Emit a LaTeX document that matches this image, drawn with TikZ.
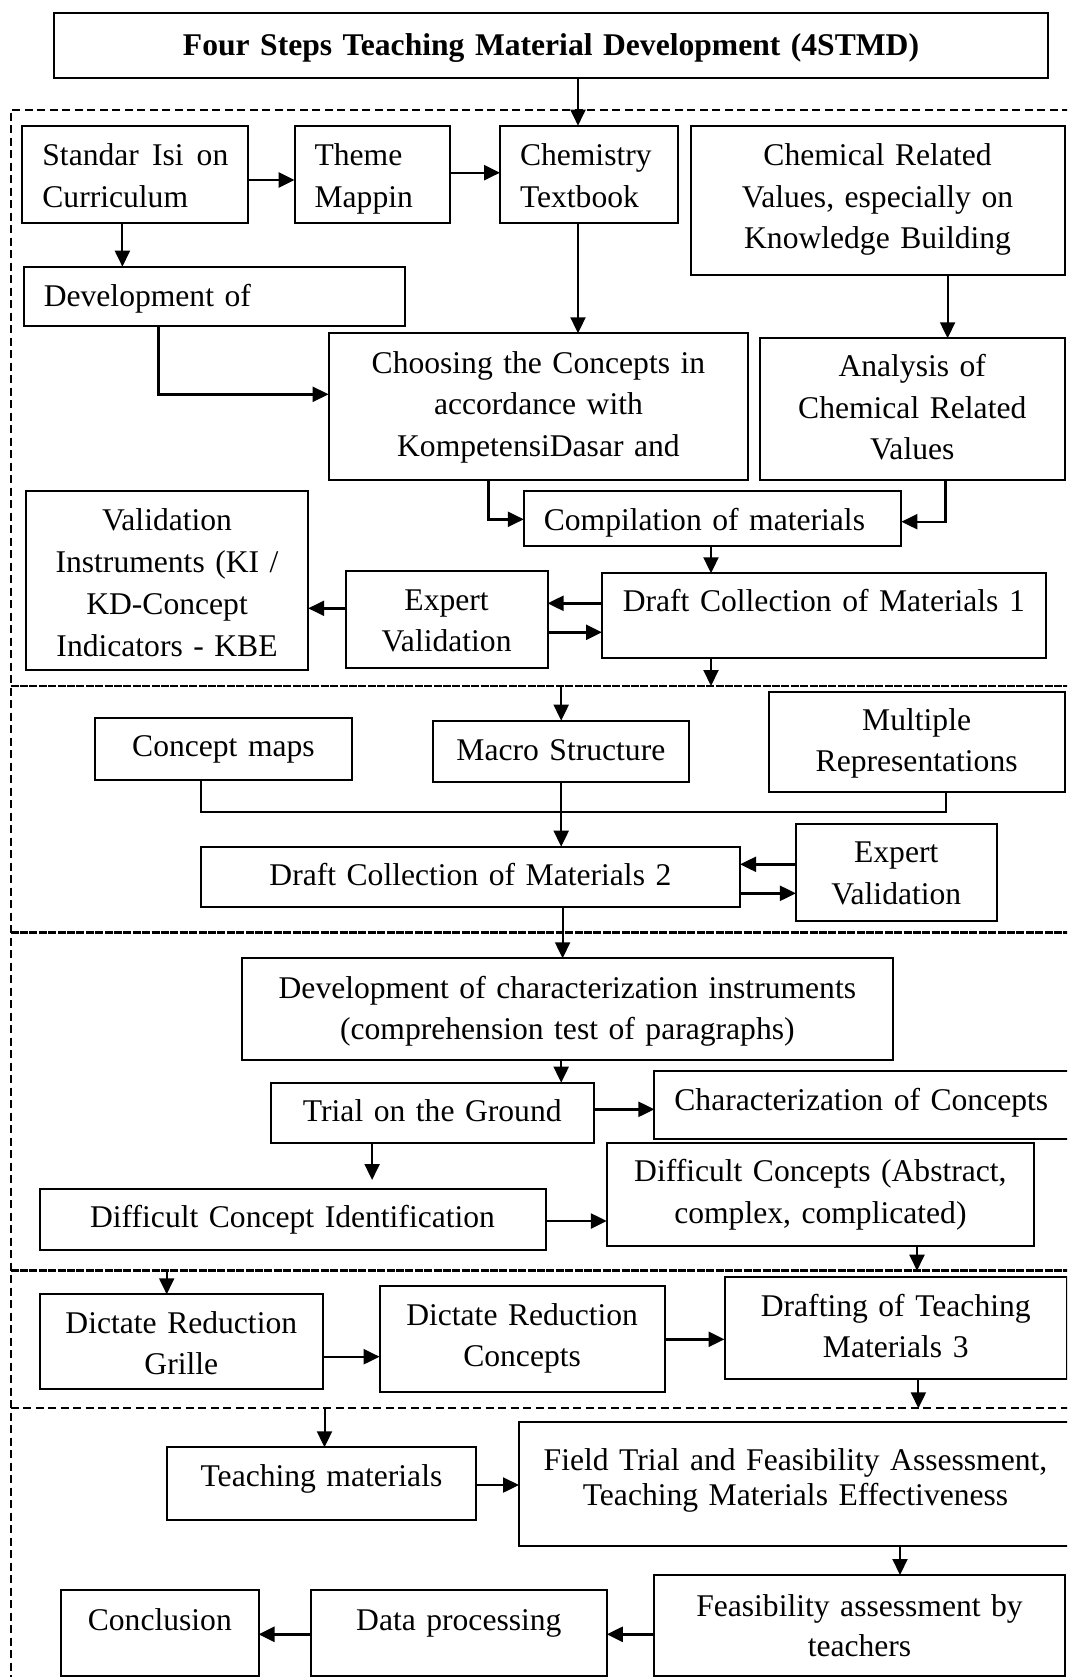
\documentclass[tikz,border=0pt]{standalone}
\usepackage{fontspec}
\setmainfont{Liberation Serif}
\usetikzlibrary{arrows.meta}
\tikzset{
  bx/.style={draw, line width=1pt, outer sep=0pt, inner ysep=0pt,
             font=\fontsize{15.8}{20.8}\selectfont},
  arr/.style={line width=1pt, -{Triangle[length=8pt,width=7.5pt]}},
  harr/.style={arr, line width=1.2pt},
  ln/.style={line width=1pt},
  outerdash/.style={line width=1pt, dash pattern=on 4pt off 2.25pt},
  sepdash/.style={line width=1.4pt, dash pattern=on 4pt off 0.7pt},
}
% centred text box: [opts]{name}{x1}{y1}{x2}{y2}{first baseline}{text}
\newcommand\cbox[8][]{%
  \pgfmathsetlengthmacro\bxTW{(#5-#3)*0.5pt-8pt}%
  \pgfmathsetlengthmacro\bxTH{(#7-#4)*0.5pt}%
  \pgfmathsetlengthmacro\bxTD{(#6-#7)*0.5pt}%
  \node[bx, align=center, anchor=base, inner xsep=4pt, text width=\bxTW, text height=\bxTH,
        text depth=\bxTD, #1] (#2) at ({(#3+#5)/2},#7) {#8};}
% left-aligned text box
\newcommand\lbox[8][]{%
  \pgfmathsetlengthmacro\bxTW{(#5-#3)*0.5pt-20pt}%
  \pgfmathsetlengthmacro\bxTH{(#7-#4)*0.5pt}%
  \pgfmathsetlengthmacro\bxTD{(#6-#7)*0.5pt}%
  \node[bx, align=left, anchor=base west, inner xsep=10pt, text width=\bxTW, text height=\bxTH,
        text depth=\bxTD, #1] (#2) at (#3,#7) {#8};}
\begin{document}
\begin{tikzpicture}[x=0.5pt, y=-0.5pt]
\useasboundingbox (0,0) rectangle (1067,1677);
\clip (0,0) rectangle (1067,1677);

% dashed frames
\draw[outerdash] (1070,109.5) -- (10.5,109.5) -- (10.5,1680);
\draw[sepdash] (10.5,686) -- (1070,686);
\draw[sepdash] (10.5,932.7) -- (1070,932.7);
\draw[sepdash] (10.5,1270.7) -- (1070,1270.7);
\draw[outerdash] (10.5,1408.3) -- (1070,1408.3);

% boxes
\cbox[font=\fontsize{15.8}{20.8}\selectfont\bfseries]{title}{54.4}{13.3}{1047.6}{78.3}{55}{Four Steps Teaching Material Development (4STMD)}
\lbox{std}{22.4}{125.7}{248.3}{223.3}{165.7}{Standar\hfill Isi\hfill on\\Curriculum}
\lbox{theme}{294.6}{125.7}{450.3}{223.3}{165.7}{Theme\\Mappin}
\lbox{chem}{500}{125.7}{678}{223.3}{165.7}{Chemistry\\Textbook}
\cbox{crv}{690.5}{125.7}{1064.6}{275}{165.7}{Chemical Related\\Values, especially on\\Knowledge Building}
\lbox{dev}{23.8}{266.7}{404.8}{326}{306.7}{Development of}
\cbox{choose}{328.6}{333.3}{748.3}{480}{373.3}{Choosing the Concepts in\\accordance with\\KompetensiDasar and}
\cbox{ana}{759.9}{338.3}{1064.6}{480}{376.7}{Analysis of\\Chemical Related\\Values}
\lbox{comp}{523.8}{490.7}{901.4}{546}{530}{Compilation of materials}
\cbox[font=\fontsize{15.8}{21.1}\selectfont]{vi}{25.9}{490.7}{308.2}{670}{530}{Validation\\Instruments (KI /\\KD-Concept\\Indicators - KBE}
\cbox{ev1}{345.6}{570.7}{547.6}{667.7}{610}{Expert\\Validation}
\cbox{d1}{602}{573.3}{1045.6}{657.7}{611.7}{Draft Collection of Materials 1}
\cbox{cmap}{95.2}{718.3}{351.7}{780}{756.7}{Concept maps}
\cbox{macro}{432.7}{720.7}{689.1}{782.3}{760}{Macro Structure}
\cbox{mrep}{768.7}{691.7}{1064.6}{792.3}{730}{Multiple\\Representations}
\cbox{d2}{200.7}{846.7}{740.1}{907.3}{885}{Draft Collection of Materials 2}
\cbox{ev2}{795.9}{824}{996.6}{920.7}{862.7}{Expert\\Validation}
\cbox{devc}{241.5}{958.3}{893.2}{1060}{998.3}{Development of characterization instruments\\(comprehension test of paragraphs)}
\cbox{trial}{270.7}{1082.7}{593.9}{1143.3}{1121.7}{Trial on the Ground}
\lbox{charc}{654.4}{1070.7}{1075}{1139.3}{1110}{Characterization of Concepts}
\cbox{dci}{39.5}{1189}{545.6}{1250}{1227.7}{Difficult Concept Identification}
\cbox{dc}{606.8}{1142.7}{1034}{1245.7}{1181.7}{Difficult Concepts (Abstract,\\complex, complicated)}
\cbox{grille}{39.5}{1294.3}{323.1}{1389.3}{1333.3}{Dictate Reduction\\Grille}
\cbox{drc}{379.6}{1285.7}{664.6}{1391.7}{1325}{Dictate Reduction\\Concepts}
\cbox{draft3}{724.5}{1276.7}{1067}{1379.3}{1316}{Drafting of Teaching\\Materials 3}
\cbox{tm}{166.7}{1447.3}{476.2}{1520}{1486.7}{Teaching materials}
\cbox[font=\fontsize{15.8}{17.5}\selectfont]{field}{519}{1421.7}{1072}{1545.7}{1470.7}{Field Trial and Feasibility Assessment,\\Teaching Materials Effectiveness}
\cbox[font=\fontsize{15.8}{20}\selectfont]{feas}{654.4}{1575}{1064.6}{1675.7}{1616.7}{Feasibility assessment by\\teachers}
\cbox{dp}{310.9}{1590}{606.8}{1675.7}{1630}{Data processing}
\cbox{concl}{61.2}{1590}{258.5}{1675.7}{1630}{Conclusion}

% free ends on the section lines
\coordinate (s1top) at (711,686);
\coordinate (s1bot) at (561.2,686);
\coordinate (s3top) at (917,1270.7);
\coordinate (s3bot) at (166.7,1270.7);
\coordinate (s4top) at (918.4,1408.3);
\coordinate (s4bot) at (324.5,1408.3);
\coordinate (jn) at (561.2,812.3);

% connectors
\draw[arr] (title.south -| 578,0) -- (578,0 |- chem.north);
\draw[harr] (std.east |- 0,180) -- (theme.west |- 0,180);
\draw[harr] (theme.east |- 0,172.7) -- (chem.west |- 0,172.7);
\draw[arr] (122.4,0 |- std.south) -- (122.4,0 |- dev.north);
\draw[arr] (578,0 |- chem.south) -- (578,0 |- choose.north);
\draw[harr] (158.5,0 |- dev.south) |- (choose.west |- 0,394.3);
\draw[arr] (947.6,0 |- crv.south) -- (947.6,0 |- ana.north);
\draw[harr] (488.4,0 |- choose.south) |- (comp.west |- 0,519.3);
\draw[harr] (945.6,0 |- ana.south) |- (comp.east |- 0,521.7);
\draw[arr] (711,0 |- comp.south) -- (711,0 |- d1.north);
\draw[harr] (d1.west |- 0,603.3) -- (ev1.east |- 0,603.3);
\draw[harr] (ev1.east |- 0,632.3) -- (d1.west |- 0,632.3);
\draw[harr] (ev1.west |- 0,608.3) -- (vi.east |- 0,608.3);
\draw[arr] (711,0 |- d1.south) -- (s1top);
\draw[arr] (s1bot) -- (561.2,0 |- macro.north);
\draw[ln] (200.7,0 |- cmap.south) |- (jn) -| (945.6,0 |- mrep.south);
\draw[arr] (561.2,0 |- macro.south) -- (561.2,0 |- d2.north);
\draw[harr] (ev2.west |- 0,864.3) -- (d2.east |- 0,864.3);
\draw[harr] (d2.east |- 0,893.3) -- (ev2.west |- 0,893.3);
\draw[arr] (562.6,0 |- d2.south) -- (562.6,0 |- devc.north);
\draw[arr] (561.2,0 |- devc.south) -- (561.2,0 |- trial.north);
\draw[harr] (trial.east |- 0,1109.3) -- (charc.west |- 0,1109.3);
\draw[arr, shorten >=4.5pt] (372.1,0 |- trial.south) -- (372.1,0 |- dci.north);
\draw[harr] (dci.east |- 0,1221) -- (dc.west |- 0,1221);
\draw[arr] (917,0 |- dc.south) -- (s3top);
\draw[arr] (s3bot) -- (166.7,0 |- grille.north);
\draw[harr] (grille.east |- 0,1356.7) -- (drc.west |- 0,1356.7);
\draw[harr] (drc.east |- 0,1339.3) -- (draft3.west |- 0,1339.3);
\draw[arr] (918.4,0 |- draft3.south) -- (s4top);
\draw[arr] (s4bot) -- (324.5,0 |- tm.north);
\draw[harr] (tm.east |- 0,1485) -- (field.west |- 0,1485);
\draw[arr] (900,0 |- field.south) -- (900,0 |- feas.north);
\draw[harr] (feas.west |- 0,1634.3) -- (dp.east |- 0,1634.3);
\draw[harr] (dp.west |- 0,1634.3) -- (concl.east |- 0,1634.3);
\end{tikzpicture}
\end{document}
